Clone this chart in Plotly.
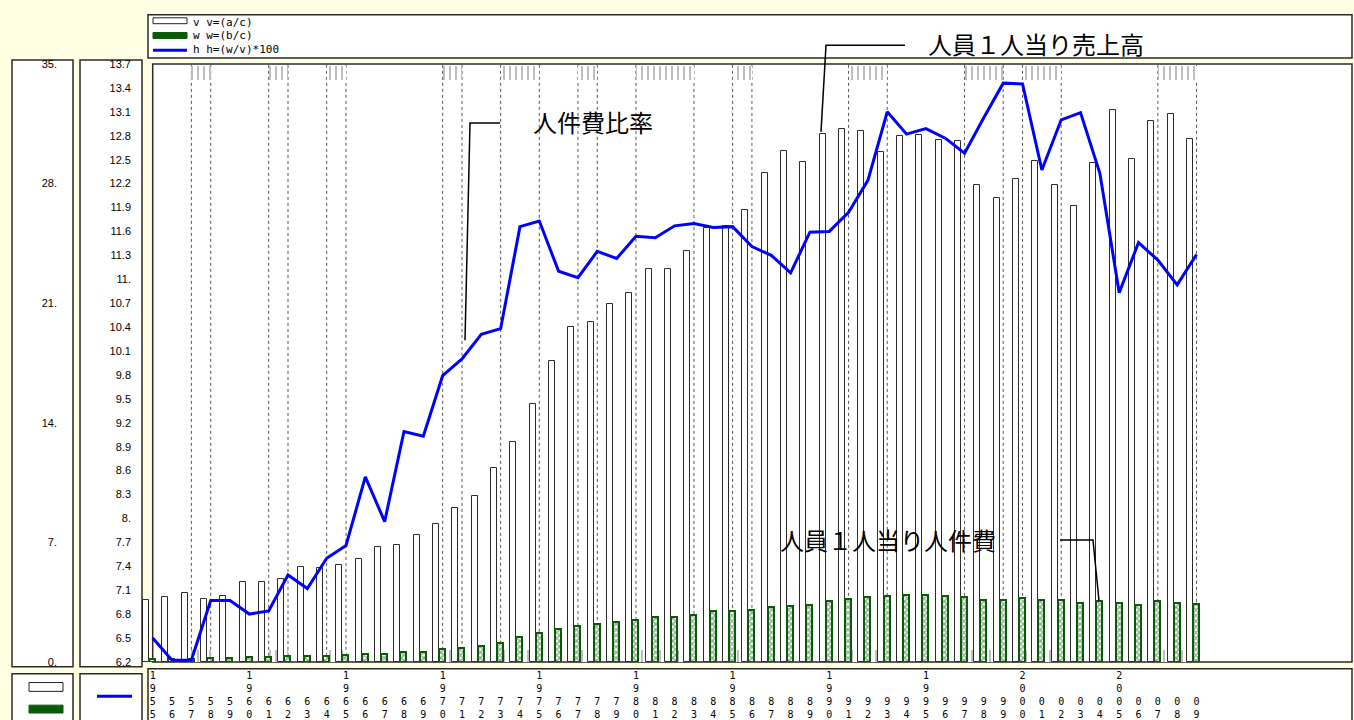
import plotly.graph_objects as go

# ---------------- data ----------------
years = list(range(1955, 2010))
v_sales = [3.61, 3.80, 4.05, 3.67, 3.86, 4.65, 4.70, 4.84, 5.57, 5.51,
           5.68, 6.03, 6.74, 6.85, 7.44, 8.10, 9.02, 9.71, 11.34, 12.86,
           15.07, 17.60, 19.63, 19.88, 20.97, 21.57, 23.01, 23.01, 24.05, 25.41,
           25.50, 26.46, 28.61, 29.90, 29.25, 30.88, 31.22, 31.07, 29.84, 30.76,
           30.82, 30.55, 30.50, 27.94, 27.17, 28.29, 29.32, 27.94, 26.66, 29.19,
           32.31, 29.44, 31.66, 32.05, 30.63]
w_labor = [0.19, 0.16, 0.16, 0.21, 0.21, 0.27, 0.31, 0.33, 0.33, 0.33,
           0.39, 0.44, 0.46, 0.60, 0.60, 0.73, 0.84, 0.90, 1.12, 1.46,
           1.71, 1.90, 2.11, 2.23, 2.36, 2.44, 2.63, 2.63, 2.76, 2.95,
           2.95, 3.03, 3.21, 3.28, 3.34, 3.55, 3.67, 3.80, 3.86, 3.91,
           3.91, 3.86, 3.80, 3.61, 3.61, 3.74, 3.61, 3.61, 3.47, 3.55,
           3.47, 3.32, 3.55, 3.47, 3.40]
h_ratio = [6.50, 6.22, 6.22, 6.97, 6.97, 6.80, 6.84, 7.29, 7.12, 7.50,
           7.66, 8.52, 7.96, 9.09, 9.03, 9.79, 10.00, 10.31, 10.38, 11.66,
           11.73, 11.10, 11.02, 11.35, 11.26, 11.54, 11.52, 11.67, 11.70, 11.65,
           11.66, 11.41, 11.30, 11.08, 11.59, 11.60, 11.84, 12.24, 13.10, 12.82,
           12.89, 12.77, 12.58, 13.03, 13.46, 13.45, 12.37, 13.00, 13.09, 12.33,
           10.83, 11.46, 11.24, 10.93, 11.31]
recession_starts = [1957, 1961, 1964, 1970, 1973, 1977, 1980, 1985, 1991, 1997, 2000, 2007]
recession_ends = [1958, 1962, 1965, 1971, 1975, 1978, 1983, 1986, 1993, 1999, 2002, 2009]
left_tickvals = [0, 7, 14, 21, 28, 35]
right_tickvals = [round(6.2 + 0.3 * i, 1) for i in range(26)]
legend_labels = ["v v=(a/c)", "w w=(b/c)", "h h=(w/v)*100"]
note_sales = "人員１人当り売上高"
note_ratio = "人件費比率"
note_labor = "人員１人当り人件費"

# ---------------- geometry helpers ----------------
W, H = 1354, 720
def px(x):
    return x / W
def py(y):
    return 1 - y / H

BG = "#FFFFE4"
BORDER = "#2a2a2a"
GREEN = "#0A5A0A"
X55 = 152.7          # pixel of 1955
STEP = 19.33         # pixels per year
PLOT_L, PLOT_R, PLOT_T, PLOT_B = 141, 1352, 59, 667
xr = [1955 + (PLOT_L - X55) / STEP, 1955 + (PLOT_R - X55) / STEP]
YMAX = 35.0

def fmt_left(t):
    return f"{t}."

def fmt_right(t):
    s = f"{t:g}"
    return s if "." in s else s + "."

def year_label(y):
    s = str(y)
    digits = list(s) if y % 5 == 0 else ["\u00a0", "\u00a0"] + list(s[2:])
    return "<br>".join(digits)

fig = go.Figure()

# recession hatch strips (top and bottom)
n_rec = len(recession_starts)
widths = [e - s for s, e in zip(recession_starts, recession_ends)]
top_base = YMAX * (PLOT_B - 75) / (PLOT_B - PLOT_T)
top_h = YMAX * (75 - 61) / (PLOT_B - PLOT_T)
bot_h = YMAX * (PLOT_B - 655) / (PLOT_B - PLOT_T)
fig.add_trace(go.Bar(
    x=recession_starts + recession_starts,
    y=[top_h] * n_rec + [bot_h] * n_rec,
    base=[top_base] * n_rec + [0] * n_rec,
    width=widths + widths, offset=0,
    marker=dict(color="white", line=dict(width=0),
                pattern=dict(shape="|", fgcolor="#6e6e6e", bgcolor="white",
                             size=6, solidity=0.3)),
    hoverinfo="skip", yaxis="y"))

# v bars
fig.add_trace(go.Bar(
    x=years, y=v_sales, offset=-0.5, width=0.31,
    marker=dict(color="white", line=dict(color=BORDER, width=1)),
    name="v", yaxis="y"))

# w bars
fig.add_trace(go.Bar(
    x=years, y=w_labor, offset=-0.19, width=0.31,
    marker=dict(color="white", line=dict(color=GREEN, width=2),
                pattern=dict(shape="x", fgcolor=GREEN, bgcolor="white",
                             size=4, solidity=0.6)),
    name="w", yaxis="y"))

# h line
fig.add_trace(go.Scatter(
    x=years, y=h_ratio, mode="lines",
    line=dict(color="#0000FF", width=3),
    name="h", yaxis="y2"))

shapes = []
def box(x0, y0, x1, y1, fill="white", lw=1.5, color=BORDER):
    shapes.append(dict(type="rect", xref="paper", yref="paper",
                       x0=px(x0), x1=px(x1), y0=py(y1), y1=py(y0),
                       fillcolor=fill, line=dict(color=color, width=lw),
                       layer="below"))

box(148, 9, 1352, 53)          # top legend box
box(12, 55, 73, 672)           # left axis box
box(80, 55, 142, 672)          # right axis box
box(X55, PLOT_T, PLOT_R, PLOT_B)  # main frame
box(12, 679, 73, 730)
box(80, 679, 142, 730)
box(148, 674, 1352, 730)

# recession dashed lines
for s, e in zip(recession_starts, recession_ends):
    for xv in (s, e):
        shapes.append(dict(type="line", xref="x", yref="y domain",
                           x0=xv, x1=xv, y0=0, y1=1,
                           line=dict(color="#555555", width=1, dash="dot"),
                           layer="below"))

# legend icons (top)
shapes.append(dict(type="rect", xref="paper", yref="paper",
                   x0=px(153), x1=px(187), y0=py(18), y1=py(12),
                   fillcolor="white", line=dict(color="#222", width=1)))
shapes.append(dict(type="rect", xref="paper", yref="paper",
                   x0=px(153), x1=px(187), y0=py(33), y1=py(27),
                   fillcolor=GREEN, line=dict(color=GREEN, width=1)))
shapes.append(dict(type="line", xref="paper", yref="paper",
                   x0=px(153), x1=px(187), y0=py(45), y1=py(45),
                   line=dict(color="#0000FF", width=3)))
# legend icons (bottom-left)
shapes.append(dict(type="rect", xref="paper", yref="paper",
                   x0=px(29), x1=px(63), y0=py(697), y1=py(688),
                   fillcolor="white", line=dict(color="#222", width=1)))
shapes.append(dict(type="rect", xref="paper", yref="paper",
                   x0=px(29), x1=px(63), y0=py(719), y1=py(711),
                   fillcolor=GREEN, line=dict(color=GREEN, width=1)))
shapes.append(dict(type="line", xref="paper", yref="paper",
                   x0=px(97), x1=px(132), y0=py(702), y1=py(702),
                   line=dict(color="#0000FF", width=3)))

# leader lines
def path(points):
    d = "M " + " L ".join(f"{px(a):.5f},{py(b):.5f}" for a, b in points)
    shapes.append(dict(type="path", xref="paper", yref="paper", path=d,
                       line=dict(color="black", width=1.5)))
path([(905, 40), (826, 40), (821, 128)])
path([(500, 119), (470, 119), (465, 340)])
path([(1060, 543), (1093, 543), (1099, 605)])

annotations = []
for i, lab in enumerate(legend_labels):
    annotations.append(dict(xref="paper", yref="paper", x=px(191), y=py(17 + 13.5 * i),
                            text=lab, showarrow=False, xanchor="left", yanchor="middle",
                            font=dict(family="DejaVu Sans Mono", size=11, color="black")))
jp = dict(family="Noto Sans CJK JP", size=24, color="black")
annotations.append(dict(xref="paper", yref="paper", x=px(926), y=py(38), text=note_sales,
                        showarrow=False, xanchor="left", yanchor="middle", font=jp))
annotations.append(dict(xref="paper", yref="paper", x=px(531), y=py(117), text=note_ratio,
                        showarrow=False, xanchor="left", yanchor="middle", font=jp))
annotations.append(dict(xref="paper", yref="paper", x=px(778), y=py(543), text=note_labor,
                        showarrow=False, xanchor="left", yanchor="middle", font=jp))

fig.update_layout(
    width=W, height=H, margin=dict(l=0, r=0, t=0, b=0),
    paper_bgcolor=BG, plot_bgcolor="rgba(0,0,0,0)",
    showlegend=False, barmode="overlay", bargap=0,
    xaxis=dict(domain=[px(PLOT_L), px(PLOT_R)], range=xr,
               tickmode="array", tickvals=years,
               ticktext=[year_label(y) for y in years],
               tickangle=0, ticks="", showgrid=False, zeroline=False,
               showline=False, anchor="y", ticklabelstandoff=6,
               tickfont=dict(family="DejaVu Sans Mono", size=10, color="black")),
    yaxis=dict(domain=[py(PLOT_B), py(PLOT_T)], range=[0, YMAX],
               tickmode="array", tickvals=left_tickvals,
               ticktext=[fmt_left(t) for t in left_tickvals],
               anchor="free", position=px(57), side="left",
               ticks="", showgrid=False, zeroline=False, showline=False,
               tickfont=dict(family="Liberation Sans", size=11, color="black")),
    yaxis2=dict(domain=[py(PLOT_B), py(PLOT_T)], range=[6.2, 13.7],
                overlaying="y", tickmode="array", tickvals=right_tickvals,
                ticktext=[fmt_right(t) for t in right_tickvals],
                anchor="free", position=px(131), side="left",
                ticks="", showgrid=False, zeroline=False, showline=False,
                tickfont=dict(family="Liberation Sans", size=11, color="black")),
    shapes=shapes, annotations=annotations,
)

fig.write_html("out.html", config={"displayModeBar": False},
               post_script="document.body.style.margin='0px';document.body.style.overflow='hidden';")
